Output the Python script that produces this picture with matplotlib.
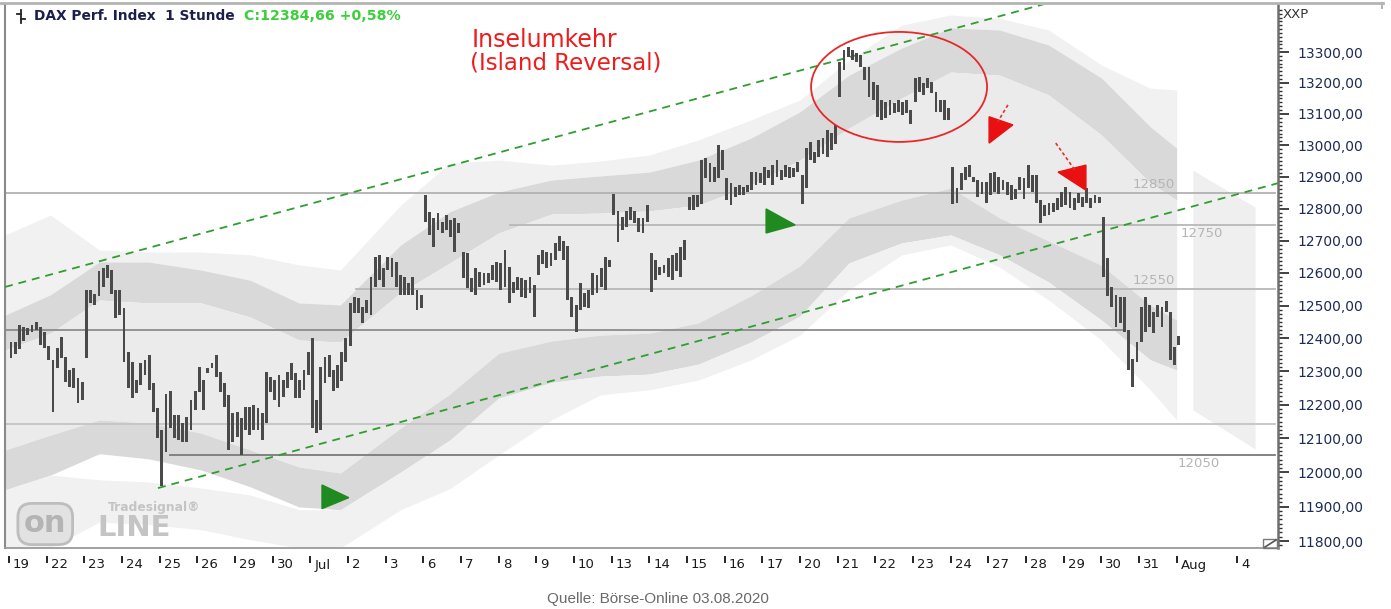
import numpy as np
import matplotlib
matplotlib.use("Agg")
import matplotlib.pyplot as plt
from matplotlib.patches import Ellipse, Polygon, Rectangle
from matplotlib.transforms import ScaledTranslation, blended_transform_factory
from matplotlib.ticker import FixedLocator, FuncFormatter, NullFormatter
from matplotlib.lines import Line2D

W, H = 1391, 609
BARS_PER_DAY = 9

# ---------------- data ----------------
day_labels = ['19', '22', '23', '24', '25', '26', '29', '30', 'Jul', '2', '3', '6', '7', '8', '9',
              '10', '13', '14', '15', '16', '17', '20', '21', '22', '23', '24', '27', '28', '29',
              '30', '31', 'Aug', '4']
day_label_pos = list(range(32)) + [32.6]

# hourly bars (low, high) per trading day
jun19 = [(12341, 12389), (12353, 12389), (12368, 12440), (12392, 12434), (12410, 12431), (12419, 12440), (12425, 12450), (12380, 12434), (12371, 12419)]
jun22 = [(12335, 12377), (12180, 12335), (12310, 12371), (12341, 12404), (12268, 12344), (12252, 12304), (12249, 12310), (12205, 12280), (12214, 12268)]
jun23 = [(12341, 12548), (12508, 12548), (12502, 12536), (12529, 12606), (12557, 12615), (12584, 12624), (12536, 12609), (12462, 12548), (12471, 12548)]
jun24 = [(12329, 12492), (12249, 12359), (12220, 12329), (12234, 12274), (12259, 12325), (12289, 12335), (12245, 12350), (12180, 12265), (12101, 12191)]
jun25 = [(11960, 12125), (12060, 12232), (12131, 12240), (12101, 12170), (12095, 12170), (12090, 12146), (12090, 12164), (12125, 12214), (12185, 12240)]
jun26 = [(12237, 12313), (12185, 12274), (12295, 12310), (12310, 12325), (12282, 12350), (12237, 12298), (12193, 12265), (12066, 12230), (12090, 12176)]
jun29 = [(12104, 12179), (12051, 12161), (12125, 12194), (12110, 12194), (12125, 12199), (12125, 12191), (12095, 12176), (12146, 12298), (12237, 12283)]
jun30 = [(12214, 12274), (12193, 12289), (12223, 12274), (12249, 12298), (12274, 12325), (12220, 12295), (12220, 12274), (12245, 12304), (12289, 12359)]
jul01 = [(12131, 12401), (12116, 12214), (12125, 12313), (12265, 12344), (12282, 12350), (12240, 12304), (12250, 12320), (12270, 12360), (12330, 12400)]
jul02 = [(12377, 12508), (12477, 12527), (12477, 12524), (12447, 12496), (12477, 12517), (12471, 12588), (12557, 12650), (12578, 12655), (12557, 12615)]
jul03 = [(12609, 12650), (12587, 12646), (12557, 12634), (12533, 12594), (12533, 12587), (12533, 12569), (12533, 12587), (12486, 12548), (12492, 12533)]
jul06 = [(12758, 12842), (12718, 12790), (12680, 12771), (12733, 12787), (12724, 12758), (12733, 12780), (12711, 12764), (12665, 12771), (12724, 12755)]
jul07 = [(12584, 12665), (12554, 12662), (12542, 12584), (12533, 12615), (12557, 12603), (12563, 12600), (12569, 12600), (12578, 12624), (12572, 12634)]
jul08 = [(12548, 12631), (12557, 12671), (12508, 12618), (12539, 12572), (12548, 12587), (12527, 12584), (12524, 12578), (12539, 12587), (12465, 12563)]
jul09 = [(12594, 12655), (12628, 12671), (12615, 12665), (12621, 12662), (12640, 12693), (12668, 12715), (12640, 12699), (12517, 12684), (12465, 12527)]
jul10 = [(12419, 12502), (12486, 12569), (12496, 12539), (12492, 12548), (12533, 12600), (12539, 12594), (12557, 12615), (12548, 12650), (12618, 12640)]
jul13 = [(12780, 12845), (12696, 12793), (12733, 12774), (12743, 12793), (12764, 12805), (12755, 12793), (12727, 12771), (12724, 12771), (12758, 12811)]
jul14 = [(12542, 12662), (12578, 12640), (12594, 12618), (12600, 12624), (12587, 12646), (12578, 12655), (12606, 12662), (12587, 12680), (12640, 12702)]
jul15 = [(12796, 12837), (12796, 12843), (12805, 12843), (12815, 12953), (12897, 12959), (12884, 12943), (12884, 12930), (12897, 13001), (12921, 12985)]
jul16 = [(12827, 12897), (12811, 12881), (12837, 12868), (12843, 12874), (12843, 12868), (12852, 12874), (12858, 12915), (12874, 12915), (12881, 12911)]
jul17 = [(12874, 12930), (12897, 12921), (12874, 12937), (12900, 12953), (12890, 12921), (12900, 12937), (12897, 12930), (12900, 12927), (12915, 12946)]
jul20 = [(12815, 12905), (12865, 12991), (12953, 13010), (12943, 12978), (12962, 13017), (12972, 13023), (12962, 13049), (12985, 13039), (13004, 13065)]
jul21 = [(13155, 13268), (13242, 13307), (13284, 13316), (13274, 13307), (13268, 13297), (13252, 13290), (13209, 13252), (13155, 13252), (13145, 13203)]
jul22 = [(13091, 13193), (13081, 13145), (13087, 13139), (13097, 13145), (13103, 13135), (13106, 13145), (13097, 13139), (13103, 13145), (13068, 13113)]
jul23 = [(13139, 13216), (13171, 13219), (13161, 13200), (13184, 13216), (13168, 13203), (13106, 13171), (13106, 13145), (13081, 13145), (13081, 13120)]
jul24 = [(12815, 12930), (12818, 12865), (12858, 12911), (12890, 12930), (12900, 12937), (12884, 12900), (12837, 12890), (12846, 12884), (12818, 12884)]
jul27 = [(12843, 12911), (12852, 12915), (12846, 12900), (12858, 12890), (12843, 12884), (12827, 12874), (12830, 12862), (12858, 12900), (12830, 12897)]
jul28 = [(12865, 12937), (12852, 12905), (12818, 12905), (12755, 12827), (12777, 12811), (12780, 12818), (12790, 12818), (12796, 12833), (12805, 12852)]
jul29 = [(12811, 12868), (12802, 12852), (12796, 12833), (12818, 12849), (12805, 12837), (12818, 12865), (12802, 12833), (12818, 12843), (12818, 12837)]
jul30 = [(12587, 12774), (12530, 12646), (12496, 12557), (12434, 12533), (12447, 12527), (12419, 12527), (12304, 12425), (12252, 12338), (12329, 12389)]
jul31 = [(12389, 12496), (12419, 12527), (12434, 12502), (12416, 12480), (12465, 12502), (12434, 12496), (12480, 12514), (12335, 12480), (12320, 12374)]
aug03 = [(12380, 12407)]

trading_days = [jun19, jun22, jun23, jun24, jun25, jun26, jun29, jun30, jul01, jul02, jul03,
                jul06, jul07, jul08, jul09, jul10, jul13, jul14, jul15, jul16, jul17, jul20,
                jul21, jul22, jul23, jul24, jul27, jul28, jul29, jul30, jul31, aug03]

# gray channel bands (x in trading days, prices)
band_day = [-0.1, 1.1, 2.4, 3.7, 5.1, 6.4, 7.7, 8.8, 10.4, 11.7, 13.0, 14.4, 15.7, 17.0,
            18.3, 19.7, 21.0, 22.3, 23.7, 25.0, 26.3, 27.6, 29.0, 30.3, 31.0]
halo_top = [12718, 12780, 12671, 12665, 12665, 12656, 12625, 12609, 12811, 12943, 12953, 12937, 12950,
            12969, 13017, 13081, 13145, 13274, 13388, 13421, 13410, 13372, 13258, 13183, 13177]
upper_top = [12471, 12533, 12634, 12634, 12609, 12578, 12508, 12502, 12687, 12790, 12852, 12890, 12903,
             12915, 12953, 13023, 13107, 13225, 13313, 13379, 13372, 13323, 13216, 13059, 12991]
upper_bot = [12365, 12416, 12517, 12508, 12508, 12465, 12395, 12389, 12540, 12631, 12724, 12783, 12786,
             12793, 12811, 12874, 12953, 13055, 13151, 13235, 13225, 13161, 13033, 12881, 12827]
lower_top = [12066, 12110, 12155, 12146, 12116, 12066, 12016, 11998, 12131, 12232, 12355, 12392, 12410,
             12416, 12447, 12530, 12622, 12771, 12827, 12865, 12771, 12699, 12624, 12501, 12456]
lower_bot = [11949, 11992, 12055, 12040, 12007, 11958, 11899, 11891, 12001, 12095, 12220, 12267, 12286,
             12292, 12322, 12389, 12468, 12631, 12693, 12718, 12656, 12572, 12456, 12335, 12304]
halo2_top = [11949, 11992, 11978, 11972, 11954, 11934, 11891, 11891, 12001, 12095, 12220, 12267, 12286,
             12292, 12322, 12389, 12468, 12631, 12693, 12718, 12656, 12572, 12456, 12335, 12304]
halo_bot = [11780, 11780, 11855, 11848, 11833, 11804, 11780, 11780, 11891, 11952, 12051, 12155, 12230,
            12245, 12274, 12335, 12410, 12548, 12656, 12687, 12618, 12517, 12395, 12245, 12155]

# projection area on the right
proj_day = [31.43, 33.08]
proj_top = [12921, 12805]
proj_bot = [12185, 12069]

# horizontal support / resistance lines
hline_levels = [12850, 12750, 12550, 12425, 12143, 12050]
hline_start = [-0.1, 13.3, 9.2, -0.1, -0.1, 4.27]
hline_end = [33.6, 33.6, 33.6, 29.55, 33.6, 33.6]
hline_colors = ['#b2b2b2', '#b8b8b8', '#b8b8b8', '#8c8c8c', '#c4c4c4', '#7a7a7a']
level_labels = ['12850', '12750', '12550', '12050']

# trend channel (green dashed)
upper_trend_day = [-0.106, 27.63]
upper_trend_px = [12557, 13462]
lower_trend_day = [3.955, 33.69]
lower_trend_px = [11954, 12880]

# signal markers
green_tri1_day = [8.31, 8.31, 9.02]
green_tri1_px = [11963, 11894, 11926]
green_tri2_day = [20.10, 20.10, 20.87]
green_tri2_px = [12799, 12724, 12749]
red_tri1_day = [26.02, 26.65, 26.02]
red_tri1_px = [13091, 13065, 13007]
red_line1_day = [26.52, 26.25]
red_line1_px = [13129, 13075]
red_tri2_day = [27.85, 28.59, 28.59]
red_tri2_px = [12915, 12937, 12858]
red_line2_day = [27.79, 28.30]
red_line2_px = [13007, 12921]

island_center = (23.63, 13187)

# ---------------- figure ----------------
fig = plt.figure(figsize=(W / 100, H / 100), dpi=100)
fig.patch.set_facecolor('white')
ax = fig.add_axes([5 / W, 1 - 548 / H, (1278 - 5) / W, (548 - 5) / H])
ax.set_yscale('log')
ax.set_xlim(-0.106, 33.69)
ax.set_ylim(11780, 13454)

c_halo, c_dark, c_mid = '#f1f1f1', '#d9d9d9', '#ebebeb'
ax.fill_between(band_day, halo_top, upper_top, color=c_halo, lw=0, zorder=1)
ax.fill_between(band_day, upper_top, upper_bot, color=c_dark, lw=0, zorder=1)
ax.fill_between(band_day, upper_bot, lower_top, color=c_mid, lw=0, zorder=1)
ax.fill_between(band_day, lower_top, lower_bot, color=c_dark, lw=0, zorder=1)
ax.fill_between(band_day, halo2_top, halo_bot, color=c_halo, lw=0, zorder=1)
ax.fill_between(proj_day, proj_bot, proj_top, color='#efefef', lw=0, zorder=1)

for lvl, s, e, c in zip(hline_levels, hline_start, hline_end, hline_colors):
    ax.plot([s, e], [lvl, lvl], color=c, lw=1.3, zorder=2)

lab_kw = dict(fontsize=9.5, color='#b5b5b5', zorder=3)
ax.annotate(level_labels[0], (30.95, 12850), xytext=(0, 2), textcoords='offset pixels', ha='right', va='bottom', **lab_kw)
ax.annotate(level_labels[1], (31.09, 12750), xytext=(0, -2), textcoords='offset pixels', ha='left', va='top', **lab_kw)
ax.annotate(level_labels[2], (30.95, 12550), xytext=(0, 2), textcoords='offset pixels', ha='right', va='bottom', **lab_kw)
ax.annotate(level_labels[3], (31.03, 12050), xytext=(0, -2), textcoords='offset pixels', ha='left', va='top', **lab_kw)

for xd, yp in [(upper_trend_day, upper_trend_px), (lower_trend_day, lower_trend_px)]:
    ln, = ax.plot(xd, yp, color='#2f9e2f', lw=1.3, zorder=3)
    ln.set_dashes((4.4, 3.3))

# bars
xs, lows, highs = [], [], []
for d, day in enumerate(trading_days):
    for h, (lo, hi) in enumerate(day):
        xs.append(d + (h + 0.5) / BARS_PER_DAY)
        lows.append(lo)
        highs.append(hi)
lows = np.array(lows, float)
highs = np.array(highs, float)
ax.bar(xs, highs - lows, bottom=lows, width=0.075, color='#4a4a4a', linewidth=0, zorder=4)

# markers
ax.add_patch(Polygon(list(zip(green_tri1_day, green_tri1_px)), closed=True, color='#1f8a1f', zorder=5))
ax.add_patch(Polygon(list(zip(green_tri2_day, green_tri2_px)), closed=True, color='#1f8a1f', zorder=5))
ax.add_patch(Polygon(list(zip(red_tri1_day, red_tri1_px)), closed=True, color='#e81010', zorder=5))
ax.add_patch(Polygon(list(zip(red_tri2_day, red_tri2_px)), closed=True, color='#e81010', zorder=5))
for xd, yp in [(red_line1_day, red_line1_px), (red_line2_day, red_line2_px)]:
    ln, = ax.plot(xd, yp, color='#e83030', lw=1.2, zorder=5)
    ln.set_dashes((2, 1.5))

ell_tr = fig.dpi_scale_trans + ScaledTranslation(island_center[0], island_center[1], ax.transData)
ax.add_patch(Ellipse((0, 0), 1.76, 1.10, transform=ell_tr, fill=False, ec='#e82828', lw=1.3, zorder=6))

ax.text((472 - 5) / 1273, 1 - (40 - 5) / 543, 'Inselumkehr', transform=ax.transAxes,
        fontsize=17, color='#ee1c1c', ha='left', va='center', zorder=7)
ax.text((470 - 5) / 1273, 1 - (63 - 5) / 543, '(Island Reversal)', transform=ax.transAxes,
        fontsize=16.5, color='#ee1c1c', ha='left', va='center', zorder=7)

# logo
lg = '#c4c4c4'
fig.text(200 / W, 1 - 508 / H, 'Tradesignal\u00ae', fontsize=8.8, color=lg, fontweight='bold',
         va='center', ha='right')
fig.text(24 / W, 1 - 524 / H, 'on', fontsize=22, color='#b4b4b4', fontweight='bold', va='center', ha='left',
         bbox=dict(boxstyle='round,pad=0.2,rounding_size=0.45', fc='#e2e2e2', ec='#bdbdbd', lw=2))
fig.text(97 / W, 1 - 528 / H, 'LINE', fontsize=21, color=lg, fontweight='bold', va='center', ha='left')

# axes styling
ax.spines['top'].set_visible(False)
ax.spines['left'].set_color('#8a8a8a')
ax.spines['left'].set_linewidth(1.5)
ax.spines['bottom'].set_color('#9a9a9a')
ax.spines['bottom'].set_linewidth(1.3)
ax.spines['right'].set_color('#6e6e6e')
ax.spines['right'].set_linewidth(1.8)

ax.yaxis.tick_right()
ax.yaxis.set_major_locator(FixedLocator(np.arange(11800, 13301, 100)))
ax.yaxis.set_minor_locator(FixedLocator(np.arange(11775, 13450, 12.5)))
ax.yaxis.set_major_formatter(FuncFormatter(lambda v, p: f"{v:.2f}".replace('.', ',')))
ax.yaxis.set_minor_formatter(NullFormatter())
ax.tick_params(axis='y', which='major', direction='out', length=8, width=1.3, color='#333333',
               pad=6, labelsize=10, labelcolor='#1d2b55')
ax.tick_params(axis='y', which='minor', direction='out', length=3, width=1.0, color='#333333')
ax.set_xticks([])

# date axis
blend = blended_transform_factory(ax.transData, ax.transAxes)
for lab, d in zip(day_labels, day_label_pos):
    ax.plot([d, d], [-9 / 543, -14 / 543], transform=blend, color='#222222', lw=1.4, clip_on=False)
    ax.annotate(lab, (d, 0), xycoords=blend, xytext=(4, -17), textcoords='offset pixels',
                ha='left', va='center', fontsize=9.5, color='#1a1a1a', annotation_clip=False)

# header / frame extras
fig.add_artist(Line2D([0, 1383 / W], [1 - 3 / H, 1 - 3 / H], color='#b4b4b4', lw=2, transform=fig.transFigure))
fig.add_artist(Line2D([1382 / W, 1382 / W], [1 - 3 / H, 1 - 8 / H], color='#b4b4b4', lw=1.5, transform=fig.transFigure))
fig.add_artist(Line2D([21 / W, 21 / W], [1 - 10 / H, 1 - 23 / H], color='#222', lw=1.3, transform=fig.transFigure))
fig.add_artist(Line2D([17 / W, 21 / W], [1 - 14 / H, 1 - 14 / H], color='#222', lw=1.3, transform=fig.transFigure))
fig.add_artist(Line2D([21 / W, 25 / W], [1 - 19 / H, 1 - 19 / H], color='#222', lw=1.3, transform=fig.transFigure))
fig.text(34 / W, 1 - 16 / H, 'DAX Perf. Index  1 Stunde', fontsize=9.9, fontweight='bold',
         color='#1b1f4d', va='center', ha='left')
fig.text(244 / W, 1 - 16 / H, 'C:12384,66 +0,58%', fontsize=10.2, fontweight='bold',
         color='#3ccf3c', va='center', ha='left')
fig.text(1283 / W, 1 - 15 / H, 'XXP', fontsize=9.5, color='#333333', va='center', ha='left')

# corner widget
fig.add_artist(Rectangle((1263 / W, 1 - 548 / H), 14 / W, 9 / H, transform=fig.transFigure,
                         fill=False, ec='#7a7a7a', lw=1))
fig.add_artist(Line2D([1265 / W, 1276 / W], [1 - 547 / H, 1 - 540 / H], color='#555', lw=1.2, transform=fig.transFigure))

fig.text(658 / W, 1 - 599 / H, 'Quelle: B\u00f6rse-Online 03.08.2020', fontsize=11, color='#6a6a6a',
         family='Liberation Sans', va='center', ha='center')

fig.savefig('out.png', dpi=100, facecolor='white')
